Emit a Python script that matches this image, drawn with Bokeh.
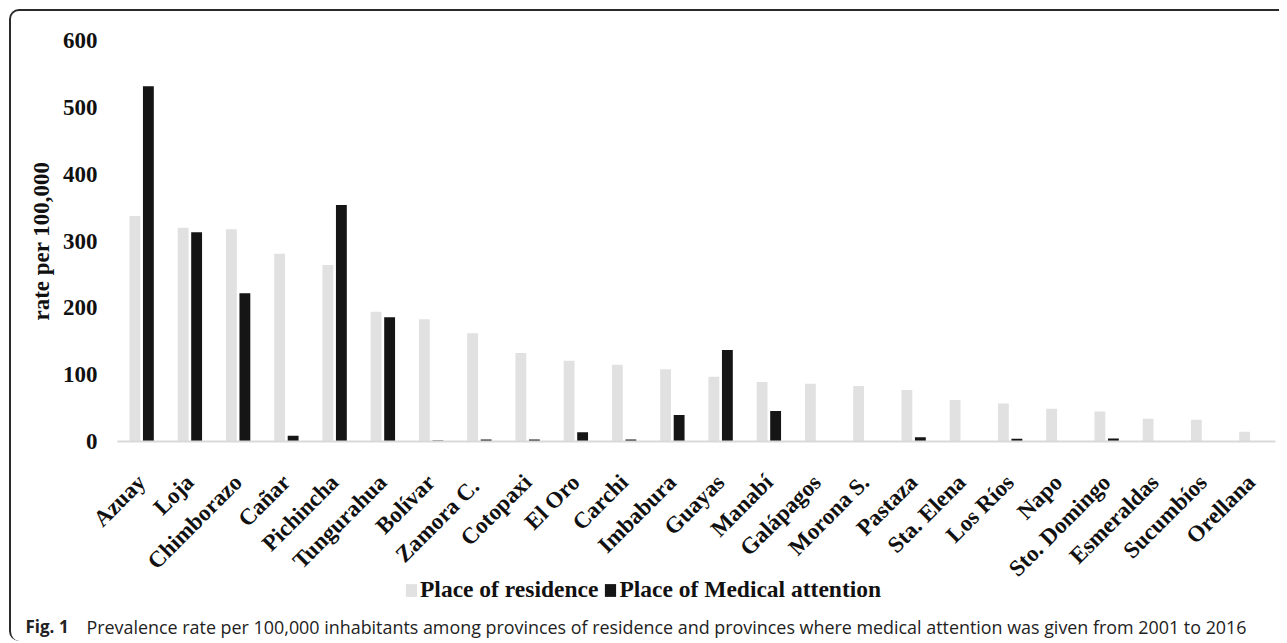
from math import pi
from bokeh.plotting import figure
from bokeh.models import (FactorRange, Range1d, FixedTicker, Legend, LegendItem,
                          Label, ColumnDataSource)
from bokeh.core.properties import value
from bokeh.transform import dodge
from bokeh.embed import file_html
from bokeh.resources import INLINE

provinces = ["Azuay", "Loja", "Chimborazo", "Cañar", "Pichincha", "Tungurahua",
             "Bolívar", "Zamora  C.", "Cotopaxi", "El Oro", "Carchi", "Imbabura",
             "Guayas", "Manabí", "Galápagos", "Morona S.", "Pastaza", "Sta. Elena",
             "Los Ríos", "Napo", "Sto. Domingo", "Esmeraldas", "Sucumbíos", "Orellana"]
residence = [337.5, 320, 317.5, 281, 264, 194, 183, 162, 132.5, 121, 115, 108,
             97, 89, 86.5, 83, 77, 62, 57, 49, 45, 34, 32.5, 14.5]
medical = [531.5, 313, 222, 8.5, 354, 186, 1.5, 3, 3, 14, 3, 39.5,
           137, 45.5, 0, 0, 6.5, 0, 4, 0, 4.5, 0, 0, 0]
y_ticks = [0, 100, 200, 300, 400, 500, 600]
series_names = ["Place of residence", "Place of Medical attention"]
y_title = "rate per 100,000"
caption_bold = "Fig. 1"
caption_text = ("Prevalence rate per 100,000 inhabitants among provinces of residence "
                "and provinces where medical attention was given from 2001 to 2016")

LIGHT = "#e1e1e1"
DARK = "#151515"
TXT = "#111111"
FRAME = "#2a2a2a"
SERIF = "Liberation Serif"
W = 1270

src = ColumnDataSource(dict(prov=provinces, res=residence, med=medical))

# ---------------- main chart ----------------
p = figure(x_range=FactorRange(factors=provinces, range_padding=0),
           y_range=Range1d(0, 600),
           width=W, height=586, output_backend="svg", toolbar_location=None,
           min_border_left=106, min_border_right=6, min_border_top=29,
           min_border_bottom=156)
p.border_fill_alpha = 0

p.vbar(x=dodge("prov", -0.14, range=p.x_range), top="res", width=0.225,
       source=src, fill_color=LIGHT, line_color=None)
p.vbar(x=dodge("prov", 0.14, range=p.x_range), top="med", width=0.225,
       source=src, fill_color=DARK, line_color=None)

p.xgrid.grid_line_color = None
p.ygrid.grid_line_color = None
p.outline_line_color = None

ya = p.yaxis[0]
ya.ticker = FixedTicker(ticks=y_ticks)
ya.axis_line_color = None
ya.major_tick_line_color = None
ya.minor_tick_line_color = None
ya.major_tick_out = 0
ya.major_tick_in = 0
ya.major_label_standoff = 20
ya.major_label_text_font = SERIF
ya.major_label_text_font_style = "bold"
ya.major_label_text_font_size = "23px"
ya.major_label_text_color = TXT
ya.axis_label = y_title
ya.axis_label_text_font = SERIF
ya.axis_label_text_font_style = "bold"
ya.axis_label_text_font_size = "23px"
ya.axis_label_text_color = TXT
ya.axis_label_standoff = 6

xa = p.xaxis[0]
xa.axis_line_color = "#d9d9d9"
xa.axis_line_width = 2
xa.major_tick_line_color = None
xa.minor_tick_line_color = None
xa.major_tick_out = 0
xa.major_tick_in = 0
xa.major_label_orientation = pi / 4
xa.major_label_standoff = 37
xa.major_label_text_font = SERIF
xa.major_label_text_font_style = "bold"
xa.major_label_text_font_size = "23px"
xa.major_label_text_color = TXT

p.styles = {"margin": "9px 0 0 9px", "border-top": f"2px solid {FRAME}",
            "border-left": f"2px solid {FRAME}", "border-top-left-radius": "10px"}

# ---------------- legend + caption strip (overlaps bottom of chart) ----------------
p2 = figure(width=W, height=75, output_backend="svg", toolbar_location=None,
            x_axis_type=None, y_axis_type=None, min_border=0,
            x_range=Range1d(0, 1), y_range=Range1d(0, 1))
p2.xgrid.grid_line_color = None
p2.ygrid.grid_line_color = None
p2.outline_line_color = None
p2.background_fill_alpha = 0
p2.border_fill_alpha = 0

# legend proxies (kept outside the visible range)
s1 = p2.vbar(x=[-1], top=[-1], width=0.1, fill_color=LIGHT, line_color=None)
s2 = p2.vbar(x=[-1], top=[-1], width=0.1, fill_color=DARK, line_color=None)

legend = Legend(items=[LegendItem(label=value(series_names[0]), renderers=[s1]),
                       LegendItem(label=value(series_names[1]), renderers=[s2])],
                orientation="horizontal", location=(393, 38),
                border_line_color=None, background_fill_alpha=0, padding=0,
                margin=0, spacing=5, glyph_width=14, glyph_height=16,
                label_standoff=2, label_text_font=SERIF,
                label_text_font_style="bold", label_text_font_size="23.5px",
                label_text_color=TXT)
p2.add_layout(legend)

p2.add_layout(Label(x=14, y=15, x_units="screen", y_units="screen",
                    text=caption_bold, text_font="Open Sans", text_font_style="bold",
                    text_font_size="17px", text_color="#222222",
                    text_baseline="alphabetic"))
p2.add_layout(Label(x=75, y=15, x_units="screen", y_units="screen",
                    text=caption_text, text_font="Open Sans",
                    text_font_size="17.9px", text_color="#222222",
                    text_baseline="alphabetic"))

p2.styles = {"margin": "-29px 0 0 9px", "border-left": f"2px solid {FRAME}",
             "border-bottom-left-radius": "10px"}

open("out.html", "w").write(file_html([p, p2], INLINE))
